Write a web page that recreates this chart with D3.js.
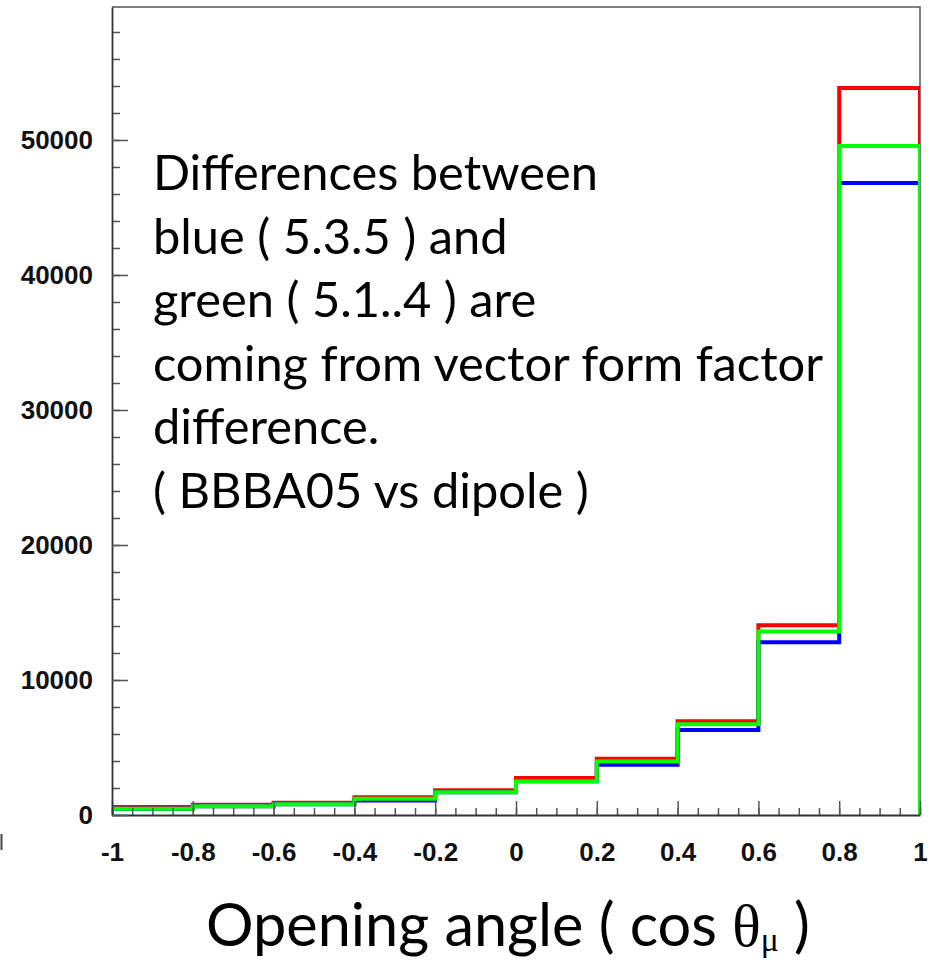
<!DOCTYPE html>
<html>
<head>
<meta charset="utf-8">
<script src="https://cdn.jsdelivr.net/npm/d3@7"></script>
<style>
  html, body { margin: 0; padding: 0; background: #fff; }
  svg { display: block; }
</style>
</head>
<body>
<svg id="chart" width="936" height="963"></svg>
<script>
// Bin lower edges of cos(theta_mu), each bin 0.2 wide
const binLow = [-1, -0.8, -0.6, -0.4, -0.2, 0, 0.2, 0.4, 0.6, 0.8];
const binWidth = 0.2;

// Event counts per bin for the three generator versions
const redCounts   = [590, 760, 910, 1310, 1830, 2740, 4170, 6940, 14050, 53850];
const blueCounts  = [470, 640, 790, 1080, 1680, 2500, 3720, 6300, 12790, 46810];
const greenCounts = [470, 640, 790, 1200, 1680, 2500, 3960, 6720, 13600, 49560];

// Axis ticks
const xTicks = [-1, -0.8, -0.6, -0.4, -0.2, 0, 0.2, 0.4, 0.6, 0.8, 1];
const xMinorTicks = d3.range(-1, 1.0001, 0.05).map(v => +v.toFixed(2));
const yTicks = [0, 10000, 20000, 30000, 40000, 50000];
const yMinorTicks = d3.range(0, 59000, 2000);

const annotationLines = [
  "Differences between",
  "blue ( 5.3.5 ) and",
  "green ( 5.1..4 ) are",
  "coming from vector form factor",
  "difference.",
  "( BBBA05 vs dipole )"
];

const svg = d3.select("#chart");
const frame = { left: 112, right: 920, top: 7, bottom: 815 };

const x = d3.scaleLinear().domain([-1, 1]).range([frame.left, frame.right]);
const y = d3.scaleLinear().domain([0, 59850]).range([frame.bottom, frame.top]);

// Top and right frame edges (drawn beneath the histograms)
svg.append("path")
  .attr("d", `M${frame.left},${frame.top}H${frame.right}V${frame.bottom}`)
  .attr("fill", "none")
  .attr("stroke", "#555")
  .attr("stroke-width", 1.5);

svg.append("clipPath").attr("id", "plotClip")
  .append("rect")
  .attr("x", frame.left).attr("y", frame.top)
  .attr("width", frame.right - frame.left)
  .attr("height", frame.bottom - frame.top);

// Step outline of a histogram
function stepPath(counts) {
  let d = `M${x(binLow[0])},${y(0)}`;
  counts.forEach((c, i) => {
    d += `V${y(c)}H${x(binLow[i] + binWidth)}`;
  });
  d += `V${y(0)}`;
  return d;
}

const hists = [
  { counts: redCounts, color: "#ff0000" },
  { counts: blueCounts, color: "#0000ff" },
  { counts: greenCounts, color: "#00ff00" }
];

svg.append("g").attr("clip-path", "url(#plotClip)")
  .selectAll("path")
  .data(hists)
  .join("path")
  .attr("d", d => stepPath(d.counts))
  .attr("fill", "none")
  .attr("stroke", d => d.color)
  .attr("stroke-width", 4)
  .attr("stroke-linejoin", "miter");

const fmtX = v => String(+v.toFixed(1));

// Bottom axis: inward ticks, labels below
const xAxis = svg.append("g")
  .attr("transform", `translate(0,${frame.bottom})`)
  .call(d3.axisBottom(x).tickValues(xMinorTicks).tickSizeInner(-7).tickSizeOuter(0).tickFormat(""));
xAxis.select(".domain").remove();
xAxis.selectAll("line").attr("stroke", "#555").attr("stroke-width", 1.5);

const xMajor = svg.append("g")
  .attr("transform", `translate(0,${frame.bottom})`)
  .call(d3.axisBottom(x).tickValues(xTicks).tickSizeInner(-14).tickSizeOuter(0)
    .tickPadding(28).tickFormat(fmtX));
xMajor.select(".domain").attr("stroke", "#333").attr("stroke-width", 1.8);
xMajor.selectAll("line").attr("stroke", "#555").attr("stroke-width", 1.5);
xMajor.selectAll("text")
  .attr("fill", "#111")
  .style("font-family", "'Liberation Sans', Arial, sans-serif")
  .style("font-weight", "bold")
  .style("font-size", "26px");

// Left axis: inward ticks, labels to the left
const yMinor = svg.append("g")
  .attr("transform", `translate(${frame.left},0)`)
  .call(d3.axisLeft(y).tickValues(yMinorTicks).tickSizeInner(-8).tickSizeOuter(0).tickFormat(""));
yMinor.select(".domain").remove();
yMinor.selectAll("line").attr("stroke", "#555").attr("stroke-width", 1.5);

const yMajor = svg.append("g")
  .attr("transform", `translate(${frame.left},0)`)
  .call(d3.axisLeft(y).tickValues(yTicks).tickSizeInner(-16).tickSizeOuter(0)
    .tickPadding(19).tickFormat(d3.format("d")));
yMajor.select(".domain").attr("stroke", "#333").attr("stroke-width", 1.8);
yMajor.selectAll("line").attr("stroke", "#555").attr("stroke-width", 1.5);
yMajor.selectAll("text")
  .attr("fill", "#111")
  .style("font-family", "'Liberation Sans', Arial, sans-serif")
  .style("font-weight", "bold")
  .style("font-size", "26px");

// Small stray mark at the lower-left edge
svg.append("line")
  .attr("x1", 1.5).attr("x2", 1.5).attr("y1", 834).attr("y2", 850)
  .attr("stroke", "#444").attr("stroke-width", 2);

// Annotation block
const note = svg.append("g")
  .style("font-family", "Lato, 'Open Sans', sans-serif")
  .attr("fill", "#000");
const noteText = note.selectAll("text")
  .data(annotationLines)
  .join("text")
  .attr("x", 153)
  .attr("y", (d, i) => 190 + i * 63.6)
  .style("font-size", "46px")
  .text(d => d);
// size the block so the first line spans its measured width
const firstW = noteText.node().getComputedTextLength();
const noteSize = 46 * 445 / firstW;
noteText.style("font-size", noteSize + "px");

// Axis title
const title = svg.append("text")
  .attr("x", 206)
  .attr("y", 946)
  .attr("fill", "#000")
  .style("font-family", "Lato, 'Open Sans', sans-serif")
  .style("font-size", "60px");
title.append("tspan").text("Opening angle ( cos ");
title.append("tspan").style("font-family", "'Liberation Serif', 'DejaVu Serif', serif").text("θ");
title.append("tspan").attr("dy", 5).style("font-family", "'Liberation Serif', 'DejaVu Serif', serif")
  .style("font-size", "34px").text("μ");
title.append("tspan").attr("dy", -5).text(" )");
const tW = title.node().getComputedTextLength();
title.style("font-size", (60 * 604 / tW) + "px");
title.selectAll("tspan").filter((d, i) => i === 2).style("font-size", (34 * 604 / tW) + "px");
</script>
</body>
</html>
